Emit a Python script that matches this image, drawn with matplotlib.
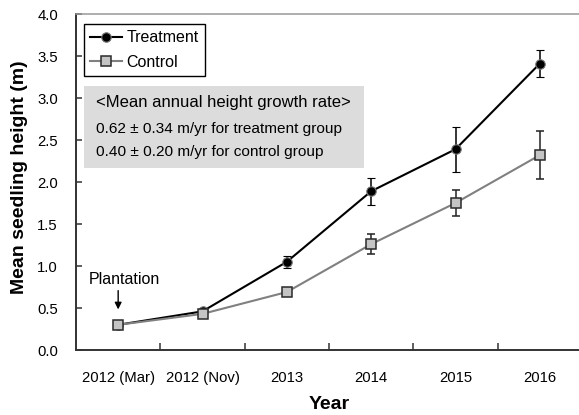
import matplotlib
matplotlib.use("Agg")
import matplotlib.pyplot as plt
from matplotlib.patches import Rectangle
from matplotlib.lines import Line2D
import numpy as np

plt.rcParams['font.family'] = ['Liberation Sans', 'DejaVu Sans']

categories = ["2012 (Mar)", "2012 (Nov)", "2013", "2014", "2015", "2016"]
treatment = [0.30, 0.46, 1.05, 1.89, 2.39, 3.41]
treatment_err = [0.02, 0.02, 0.07, 0.16, 0.27, 0.16]
control = [0.30, 0.43, 0.69, 1.26, 1.75, 2.32]
control_err = [0.02, 0.02, 0.03, 0.12, 0.16, 0.29]
y_ticks = [0.0, 0.5, 1.0, 1.5, 2.0, 2.5, 3.0, 3.5, 4.0]
rate_title = "<Mean annual height growth rate>"
rate_lines = ["0.62 \u00b1 0.34 m/yr for treatment group",
              "0.40 \u00b1 0.20 m/yr for control group"]

W, H = 579, 415
fig = plt.figure(figsize=(W / 100, H / 100), dpi=100)

def fx(px):
    return px / W

def fy(py):
    return 1 - py / H

ax = fig.add_axes([fx(76), fy(350), fx(582) - fx(76), fy(14) - fy(350)])
x = np.arange(len(categories))

t_style = dict(color='black', lw=1.5, marker='o', ms=6.8, mfc='black',
               mec='#777777', mew=0.8)
c_style = dict(color='#808080', lw=1.5, marker='s', ms=7.5, mfc='#c4c4c4',
               mec='#2a2a2a', mew=1.1)

ax.errorbar(x, treatment, yerr=treatment_err, ecolor='black',
            elinewidth=1.1, capsize=2.6, capthick=1.1, zorder=3, **t_style)
ax.errorbar(x, control, yerr=control_err, ecolor='#222222',
            elinewidth=1.1, capsize=2.6, capthick=1.1, zorder=4, **c_style)

ax.set_xlim(-0.5, len(categories) - 0.5)
ax.set_ylim(0, 4.0)
ax.set_xticks(x)
ax.set_xticklabels(categories, fontsize=10.7)
ax.set_xticks(np.arange(0.5, len(categories) - 1, 1.0), minor=True)
ax.tick_params(axis='x', which='major', length=0, pad=15)
ax.tick_params(axis='x', which='minor', direction='in', length=5,
               width=1.1, color='#333333')
ax.set_yticks(y_ticks)
ax.set_yticklabels([f"{v:.1f}" for v in y_ticks], fontsize=10.7)
ax.tick_params(axis='y', direction='in', length=4, width=1.1,
               color='#333333', pad=13)

for side in ('left', 'bottom'):
    ax.spines[side].set_color('#333333')
    ax.spines[side].set_linewidth(1.4)
ax.spines['top'].set_color('#999999')
ax.spines['top'].set_linewidth(1.1)
ax.spines['right'].set_visible(False)

# Legend in the upper-left corner (plain line + marker handles)
handles = [Line2D([], [], **t_style), Line2D([], [], **c_style)]
leg = ax.legend(handles, ['Treatment', 'Control'], loc='upper left',
                bbox_to_anchor=(fx(84), fy(24)),
                bbox_transform=fig.transFigure, borderaxespad=0,
                fontsize=11.5, frameon=True, fancybox=False, framealpha=1,
                edgecolor='black', handlelength=2.0, handletextpad=0.25,
                borderpad=0.4, labelspacing=0.6)
leg.get_frame().set_linewidth(1.0)

# Shaded box with growth-rate summary
box = Rectangle((fx(84), fy(168)), fx(364) - fx(84), fy(86) - fy(168),
                transform=fig.transFigure, facecolor='#dcdcdc',
                edgecolor='none', zorder=1)
fig.patches.append(box)
fig.text(fx(96), fy(103), rate_title, fontsize=12, va='center', ha='left')
fig.text(fx(96), fy(129), rate_lines[0], fontsize=11.1, va='center', ha='left')
fig.text(fx(96), fy(152), rate_lines[1], fontsize=11.1, va='center', ha='left')

# Plantation marker
ax.annotate('', xy=(0, 0.45), xytext=(0, 0.74),
            arrowprops=dict(arrowstyle='-|>', color='black', lw=1.0,
                            mutation_scale=10))
ax.text(0.07, 0.845, 'Plantation', fontsize=11.5, ha='center', va='center')

fig.text(fx(20), fy(177), 'Mean seedling height (m)', rotation=90,
         fontsize=14, fontweight='bold', ha='center', va='center')
fig.text(fx(329), fy(404), 'Year', fontsize=14, fontweight='bold',
         ha='center', va='center')

fig.savefig('out.png', dpi=100)
